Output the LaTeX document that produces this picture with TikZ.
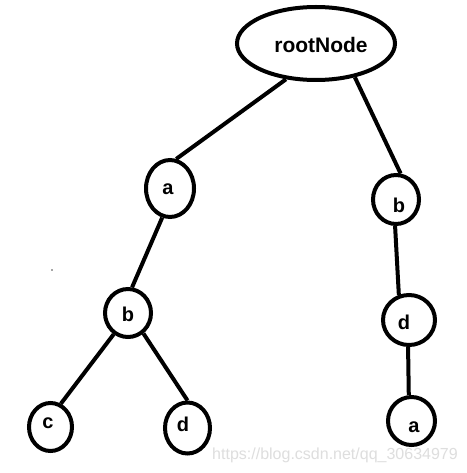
\documentclass[tikz,border=0pt]{standalone}
\usepackage{fontspec}
\setmainfont{Liberation Sans}
\usetikzlibrary{shapes.geometric}
\begin{document}
\begin{tikzpicture}[x=1pt,y=-1pt,
  tnode/.style={draw=black,line width=4pt,ellipse,inner sep=0pt,fill=white},
  lbl/.style={font=\bfseries\fontsize{20}{24}\selectfont},
  edge/.style={line width=4pt}]
\useasboundingbox (0,0) rectangle (466,473);
\fill[white] (0,0) rectangle (466,473);
\node[tnode,minimum width=158pt,minimum height=73pt] (root) at (316,43.5) {};
\node[lbl,font=\bfseries\fontsize{21}{24}\selectfont] (roottxt) at (321,44.5) {rootNode};
\node[tnode,minimum width=48pt,minimum height=57pt] (a1) at (170,188.5) {};
\node[tnode,minimum width=46pt,minimum height=48pt] (b1) at (128,313) {};
\node[tnode,minimum width=43pt,minimum height=48pt] (c1) at (50.5,427) {};
\node[tnode,minimum width=45pt,minimum height=51pt] (d1) at (187.5,428) {};
\node[tnode,minimum width=46pt,minimum height=49pt] (b2) at (396,199.5) {};
\node[tnode,minimum width=52pt,minimum height=50pt] (d2) at (409,320) {};
\node[tnode,minimum width=47pt,minimum height=48pt] (a2) at (411.5,421) {};
\node[lbl] (ta1) at (168,189) {a};
\node[lbl] (tb1) at (128,314) {b};
\node[lbl] (tc1) at (48,423) {c};
\node[lbl] (td1) at (183,424) {d};
\node[lbl] (tb2) at (399,205) {b};
\node[lbl] (td2) at (404,322) {d};
\node[lbl] (ta2) at (414,427) {a};
\draw[edge] (root.230) -- (a1.78);
\draw[edge] (root.319) -- (b2.80);
\draw[edge] (a1.255) -- (b1.81);
\draw[edge] (b1.236) -- (c1.66);
\draw[edge] (b1.307) -- (d1.90);
\draw[edge] (b2.268) -- (d2.112);
\draw[edge] (d2.268) -- (a2.96);
\fill[black!70] (52,270) circle (0.8pt);
\node[font=\fontsize{16}{18}\selectfont,text=black!13] (wm) at (335,455) {https://blog.csdn.net/qq\_30634979};
\end{tikzpicture}
\end{document}
